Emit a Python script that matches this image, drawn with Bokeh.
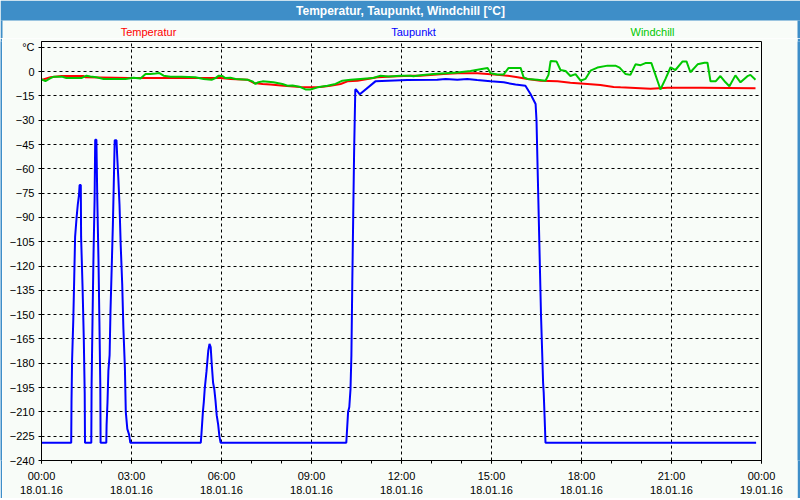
from bokeh.plotting import figure
from bokeh.models import Range1d, FixedTicker
from bokeh.layouts import column, row
from bokeh.core.properties import value
from bokeh.embed import file_html
from bokeh.resources import INLINE

# ---------------- data (time in hours since 18.01.16 00:00, values in °C) ----------------
temp_t = [0.0, 0.3, 0.67, 1.4, 1.47, 2.47, 2.9, 5.3, 5.97, 6.3, 6.87, 7.07, 7.37, 7.63, 8.07,
          8.63, 8.97, 9.3, 9.63, 9.97, 10.2, 10.53, 10.87, 11.2, 11.53, 11.87, 12.3, 12.63,
          13.4, 13.87, 14.53, 14.87, 15.2, 15.53, 15.87, 16.2, 16.63, 17.2, 17.63, 18.2,
          18.63, 19.07, 19.3, 20.3, 20.87, 21.97, 23.8]
temp_v = [-5.2, -3.5, -2.7, -2.7, -3.5, -3.8, -4.0, -4.0, -4.0, -4.5, -5.0, -7.0, -7.6, -8.0, -8.7,
          -9.5, -9.7, -9.5, -8.7, -7.6, -6.0, -5.6, -4.5, -3.5, -3.1, -2.9, -2.5, -2.5,
          -1.5, -1.0, -1.0, -1.5, -2.0, -2.5, -3.5, -4.6, -5.6, -6.0, -6.8, -7.6,
          -8.3, -9.5, -9.7, -10.5, -10.0, -10.0, -10.2]

dew_t = [0.0, 0.99, 1.0, 1.02, 1.06, 1.09, 1.12, 1.17, 1.21, 1.25, 1.27, 1.31, 1.32, 1.37, 1.41, 1.44, 1.45,
         1.66, 1.67, 1.70, 1.73, 1.77, 1.79, 1.83, 1.86, 1.90, 1.93, 1.96, 1.97,
         2.16, 2.17, 2.20, 2.23, 2.27, 2.30, 2.34, 2.38, 2.41, 2.44, 2.50, 2.52, 2.56, 2.60, 2.64,
         2.69, 2.73, 2.78, 2.81, 2.86, 2.92, 2.96,
         5.31, 5.33, 5.38, 5.41, 5.44, 5.50, 5.56, 5.60, 5.64, 5.68, 5.72, 5.76, 5.80, 5.84, 5.89,
         5.93, 5.97,
         10.16, 10.19, 10.22, 10.26, 10.30, 10.33, 10.36, 10.39, 10.42, 10.46, 10.48, 10.61, 11.13,
         12.19, 13.19, 13.47, 13.86, 14.19, 14.52, 14.97, 15.41, 15.80, 16.13, 16.30, 16.47, 16.50,
         16.55, 16.60, 16.65, 16.70, 16.72, 16.74, 16.77, 16.80, 23.82]
dew_v = [-229, -229, -204, -178, -153, -128, -102, -90, -82, -76, -70, -70, -102, -134, -165, -198, -229,
         -229, -193, -154, -117, -79, -42, -42, -79, -117, -154, -193, -229,
         -229, -218, -204, -184.5, -175, -147.5, -121, -94, -68.6, -42.4, -42.4, -51, -65.5, -82, -107,
         -131, -158.5, -183, -210, -220.5, -224, -229,
         -229, -224, -210, -204, -196, -185, -172, -168, -170, -182, -192, -196, -203, -212, -218,
         -225, -229,
         -229, -219.5, -210, -207, -196, -175, -130, -90, -50, -11, -11, -14, -6,
         -5.2, -5.0, -4.5, -5.0, -4.5, -5.2, -6.0, -6.6, -8.0, -8.7, -13.8, -20, -30,
         -70, -110, -150, -180, -192, -198, -213, -229, -229]

chill_t = [0.0, 0.13, 0.3, 0.4, 0.7, 0.83, 1.33, 1.5, 1.63, 1.83, 2.07, 2.8, 3.07, 3.3, 3.47, 3.63,
           3.8, 3.93, 4.07, 4.3, 4.67, 5.13, 5.4, 5.67, 5.8, 5.9, 6.03, 6.13, 6.3, 6.47, 6.87, 7.03,
           7.13, 7.23, 7.37, 7.73, 8.03, 8.2, 8.37, 8.63, 8.8, 8.97, 9.2, 9.53, 9.8, 10.03, 10.3,
           10.63, 11.03, 11.3, 11.57, 11.97, 12.3, 12.4, 12.63, 13.07, 13.87, 14.3, 14.63, 14.87,
           14.97, 15.2, 15.4, 15.57, 15.97, 16.07, 16.2, 16.53, 16.8, 16.9, 16.97, 17.17, 17.3,
           17.47, 17.63, 17.8, 17.97, 18.13, 18.3, 18.53, 18.87, 19.13, 19.27, 19.47, 19.63, 19.8,
           19.97, 20.13, 20.33, 20.57, 20.63, 20.8, 20.97, 21.13, 21.37, 21.5, 21.63, 21.87, 22.1,
           22.2, 22.3, 22.47, 22.63, 22.8, 22.93, 23.13, 23.3, 23.53, 23.63, 23.8]
chill_v = [-4.8, -5.8, -4.0, -3.2, -3.2, -4.0, -4.0, -2.5, -3.0, -3.5, -4.5, -4.5, -3.8, -4.2, -1.5, -1.5,
           -1.2, -0.9, -2.5, -3.2, -3.2, -3.5, -4.5, -5.0, -4.0, -2.5, -2.7, -4.0, -3.8, -4.5, -5.0, -6.0,
           -7.6, -6.5, -6.0, -6.5, -7.6, -8.7, -8.5, -9.5, -11.0, -11.0, -9.7, -8.7, -7.6, -5.6, -5.0,
           -4.5, -4.0, -2.5, -3.0, -2.5, -2.5, -2.8, -2.2, -1.5, -0.5, 0.4, 1.5, 2.2,
           -1.0, -1.8, -1.8, 2.3, 2.3, -3.5, -4.5, -5.0, -5.6, -2.0, 6.5, 6.2, 1.0,
           0.4, -2.7, -1.5, -5.6, -4.5, 0.6, 2.5, 3.7, 3.7, 2.5, -1.5, -2.0, 4.5,
           4.0, 5.3, 5.3, -7.6, -11.0, -4.5, 2.7, 1.0, 6.3, 6.3, -0.4, 4.5, 5.5,
           5.5, -6.0, -6.0, -2.7, -6.6, -9.0, -2.3, -6.6, -2.8, -2.0, -5.0]

y_ticks = list(range(-240, 16, 15))
x_ticks = list(range(0, 25, 3))
x_tick_labels = ["00:00\n18.01.16", "03:00\n18.01.16", "06:00\n18.01.16", "09:00\n18.01.16",
                 "12:00\n18.01.16", "15:00\n18.01.16", "18:00\n18.01.16", "21:00\n18.01.16",
                 "00:00\n19.01.16"]
title_text = "Temperatur, Taupunkt, Windchill [°C]"
series_names = ["Temperatur", "Taupunkt", "Windchill"]
series_colors = ["#ff0000", "#0000ff", "#00c800"]

# ---------------- styling ----------------
BG = "#f8fcf8"
BAR = "#3e8ec8"
FONT = "Liberation Sans"
W, H = 800, 500
TOP_H = 38
BOT_H = 2
LEFT_W, RIGHT_W = 2, 3


def strip(w, h):
    f = figure(width=w, height=h, output_backend="svg", toolbar_location=None, title=None,
               x_axis_location=None, y_axis_location=None, min_border=0,
               background_fill_color=BAR, border_fill_color=BAR, outline_line_color=None)
    f.grid.visible = False
    return f


# header: blue title bar + coloured series names
top = figure(width=W, height=TOP_H, output_backend="svg", toolbar_location=None, title=None,
             x_range=Range1d(0, W), y_range=Range1d(TOP_H, 0),
             x_axis_location=None, y_axis_location=None, min_border=0,
             background_fill_color=BG, border_fill_color=BG, outline_line_color=None)
top.grid.visible = False
top.quad(left=[0, 0, W - RIGHT_W], right=[W, LEFT_W, W], top=[0, 20, 20], bottom=[20, TOP_H, TOP_H],
         fill_color=BAR, line_color=None)
top.text(x=[W / 2], y=[10], text=[title_text], text_align="center", text_baseline="middle",
         text_color="white", text_font=value(FONT), text_font_size="12px", text_font_style="bold")
top.text(x=[148, 413, 652], y=[31, 31, 31], text=series_names, text_align="center",
         text_baseline="middle", text_color=series_colors, text_font=value(FONT),
         text_font_size="11px")

# main chart
p = figure(width=W - LEFT_W - RIGHT_W, height=H - TOP_H - BOT_H, output_backend="svg",
           toolbar_location=None, title=None,
           x_range=Range1d(0, 24), y_range=Range1d(-240, 18.6),
           min_border_left=41 - LEFT_W, min_border_right=(W - RIGHT_W) - 761,
           min_border_top=41 - TOP_H, min_border_bottom=(H - BOT_H) - 460,
           background_fill_color=BG, border_fill_color=BG)

p.outline_line_color = "black"
p.outline_line_width = 1

p.xaxis.ticker = FixedTicker(ticks=x_ticks, minor_ticks=list(range(0, 25)))
p.xaxis.major_label_overrides = {t: lab for t, lab in zip(x_ticks, x_tick_labels)}
p.yaxis.ticker = FixedTicker(ticks=y_ticks)
p.yaxis.major_label_overrides = {15: "°C"}

for ax in (p.xaxis[0], p.yaxis[0]):
    ax.axis_line_color = "black"
    ax.major_tick_line_color = "black"
    ax.major_tick_in = 0
    ax.major_tick_out = 3
    ax.minor_tick_in = 0
    ax.minor_tick_out = 3
    ax.major_label_text_font = FONT
    ax.major_label_text_font_size = "11px"
    ax.major_label_text_color = "black"
p.yaxis.minor_tick_line_color = None
p.yaxis.major_label_standoff = 4
p.xaxis.major_label_standoff = 6

p.xgrid.ticker = FixedTicker(ticks=x_ticks)
p.ygrid.ticker = FixedTicker(ticks=y_ticks)
for g in (p.xgrid[0], p.ygrid[0]):
    g.grid_line_color = "black"
    g.grid_line_dash = "3 3"
    g.grid_line_width = 1

p.line(dew_t, dew_v, line_color=series_colors[1], line_width=2)
p.line(temp_t, temp_v, line_color=series_colors[0], line_width=2)
p.line(chill_t, chill_v, line_color=series_colors[2], line_width=2)

layout = column(
    top,
    row(strip(LEFT_W, H - TOP_H - BOT_H), p, strip(RIGHT_W, H - TOP_H - BOT_H), spacing=0),
    strip(W, BOT_H),
    spacing=0,
)

open("out.html", "w").write(file_html(layout, INLINE))
